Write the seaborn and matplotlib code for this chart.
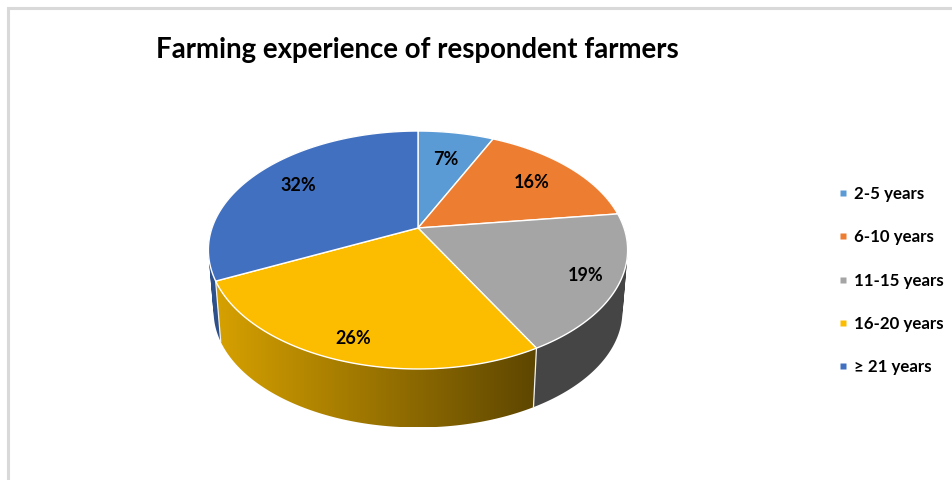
import numpy as np
import matplotlib
matplotlib.use("Agg")
import matplotlib.pyplot as plt
from matplotlib.lines import Line2D
from matplotlib.patches import PathPatch
from matplotlib.path import Path
from matplotlib.colors import to_rgb
import seaborn as sns

# Chart content
title = "Farming experience of respondent farmers"
categories = ["2-5 years", "6-10 years", "11-15 years", "16-20 years", "\u2265 21 years"]
shares = [7, 16, 19, 26, 32]
colors = ["#5B9BD5", "#ED7D31", "#A5A5A5", "#FCBD00", "#4170C0"]

# Brightness of the side wall at the left and right end of each slice
wall_left = [0.6, 0.6, 0.42, 0.85, 0.72]
wall_right = [0.6, 0.6, 0.42, 0.37, 0.72]
# Radial placement of each percentage label on the disc
label_radius = [0.69, 0.735, 0.85, 0.86, 0.74]

# Perspective of the tilted disc, in pixels
CX, CY = 418.0, 228.0
RX, RY, TILT = 206.0, 114.9, 0.185
FLOOR_SCALE, FLOOR_DROP = 0.975, 62.0

sns.set_theme(style="white")
plt.rcParams["font.family"] = ["Lato", "DejaVu Sans"]
plt.rcParams["font.weight"] = "bold"
palette = sns.color_palette(colors)


def project(theta, r=1.0):
    """Map a clockwise-from-top angle on the disc to top-surface offsets."""
    u, v = r * np.sin(theta), r * np.cos(theta)
    d = 1 + TILT * v
    return RX * u / d, RY * v / d


def top_rim(theta):
    x, y = project(theta)
    return CX + x, CY - y


def floor_rim(theta):
    x, y = project(theta)
    return CX + FLOOR_SCALE * x, CY - FLOOR_SCALE * y + FLOOR_DROP


def swept_wall(steps):
    """Outline of a wall as one path of quads, all wound the same way."""
    tx, ty = top_rim(steps)
    fx, fy = floor_rim(steps)
    quads = []
    for j in range(len(steps) - 1):
        quad = np.array([[tx[j], ty[j]], [tx[j + 1], ty[j + 1]],
                         [fx[j + 1], fy[j + 1]], [fx[j], fy[j]]])
        x, y = quad[:, 0], quad[:, 1]
        area = np.dot(x, np.roll(y, -1)) - np.dot(y, np.roll(x, -1))
        if area < 0:
            quad = quad[::-1]
        quads.append(Path(np.vstack([quad, quad[0]]), closed=True))
    return Path.make_compound_path(*quads)


fig = plt.figure(figsize=(9.52, 4.8), dpi=100, facecolor="white")
ax = fig.add_axes([0, 0, 1, 1])

# Frame along the top and left edges
ax.plot([8, 8, 952], [480, 8, 8], color="#D9D9D9", lw=2.2, solid_joinstyle="miter")

edges = np.deg2rad(np.concatenate([[0], np.cumsum(shares)]) * 3.6)

# Side wall: a horizontal colour ramp clipped to each slice's swept outline
order = sorted(range(len(shares)), key=lambda i: -np.cos((edges[i] + edges[i + 1]) / 2))
for i in order:
    steps = np.linspace(edges[i], edges[i + 1], 120)
    outline = swept_wall(steps)
    left, right = outline.vertices[:, 0].min(), outline.vertices[:, 0].max()
    low, high = outline.vertices[:, 1].max(), outline.vertices[:, 1].min()
    shades = np.linspace(wall_left[i], wall_right[i], 256)
    ramp = shades[None, :, None] * np.array(to_rgb(palette[i]))[None, None, :]
    clip = PathPatch(outline, facecolor="none", edgecolor="none", transform=ax.transData)
    ax.add_patch(clip)
    image = ax.imshow(ramp, extent=(left, right, low, high), aspect="auto",
                      interpolation="bilinear", zorder=2)
    image.set_clip_path(clip)

# Thin separators where slices meet on the wall
for e in edges[:-1]:
    tx, ty = top_rim(e)
    fx, fy = floor_rim(e)
    ax.plot([tx, fx], [ty, fy], color="#F2F2F2", lw=0.9, zorder=3)

# Top surface
for i in range(len(shares)):
    steps = np.linspace(edges[i], edges[i + 1], 160)
    rx, ry = top_rim(steps)
    ax.fill(np.r_[CX, rx], np.r_[CY, ry], facecolor=palette[i],
            edgecolor="white", lw=1.0, joinstyle="round", zorder=4)

# Percentage labels
for i, share in enumerate(shares):
    mid = (edges[i] + edges[i + 1]) / 2
    x, y = project(mid, label_radius[i])
    ax.text(CX + x, CY - y, f"{share}%", ha="center", va="center",
            fontsize=13, color="black", zorder=5)

ax.text(417, 50, title, ha="center", va="center", fontsize=19.9, color="black")

handles = [Line2D([], [], linestyle="none", marker="s", markersize=4.8,
                  markerfacecolor=palette[i], markeredgecolor="none", label=categories[i])
           for i in range(len(categories))]
ax.legend(handles=handles, loc="center left", bbox_to_anchor=(0.8766, 0.4156),
          frameon=False, fontsize=12.2, labelspacing=1.62, handlelength=1.0,
          handletextpad=0.15, borderpad=0, borderaxespad=0, labelcolor="black")

ax.set_xlim(0, 952)
ax.set_ylim(480, 0)
ax.axis("off")

fig.savefig("out.png", dpi=100, facecolor="white")
